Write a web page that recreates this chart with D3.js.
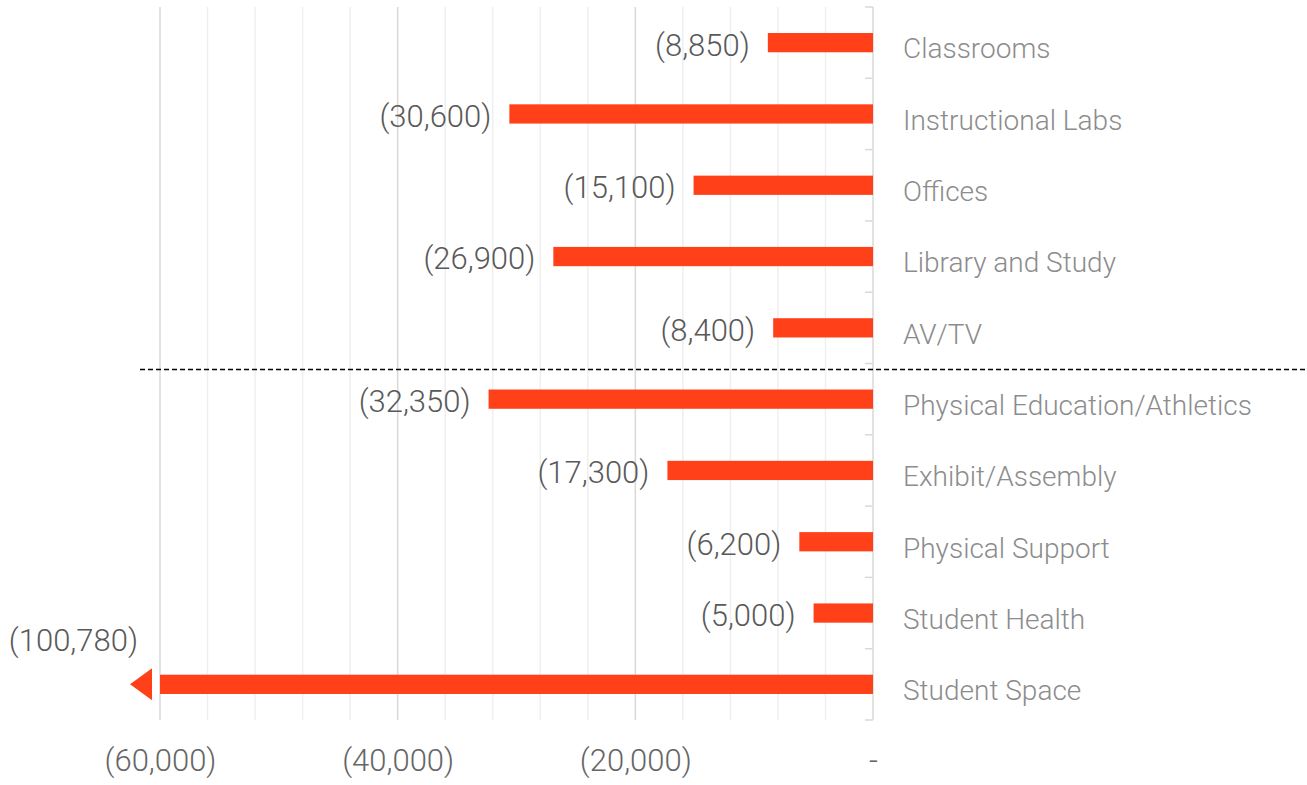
<!DOCTYPE html>
<html><head><meta charset="utf-8">
<script src="https://cdn.jsdelivr.net/npm/d3@7"></script>
<style>
body{margin:0;background:#fff;}
text{font-family:Roboto,"Noto Sans",sans-serif;font-weight:300;}
</style></head>
<body><svg id="c" width="1307" height="785"></svg>
<script>
const categories = ["Classrooms","Instructional Labs","Offices","Library and Study","AV/TV","Physical Education/Athletics","Exhibit/Assembly","Physical Support","Student Health","Student Space"];
const values = [-8850,-30600,-15100,-26900,-8400,-32350,-17300,-6200,-5000,-100780];
const xTicks = [-60000,-40000,-20000,0];
const xMinorStep = 4000;
const dividerAfter = "AV/TV";

const svg = d3.select("#c");
const x = d3.scaleLinear().domain([-60000,0]).range([160,873]);
const y = d3.scaleBand().domain(categories).range([7,720]).paddingInner(0.73).paddingOuter(0.365);
const fmt = v => v===0 ? "-" : "(" + d3.format(",")(Math.abs(v)) + ")";
const color = "#FF4019";

// minor grid
const minor = d3.range(-60000, 0, xMinorStep).filter(v=>!xTicks.includes(v));
svg.append("g").selectAll("line").data(minor).join("line")
  .attr("x1",d=>x(d)).attr("x2",d=>x(d)).attr("y1",7).attr("y2",720)
  .attr("stroke","#efefef").attr("stroke-width",1.5);
// major grid
svg.append("g").selectAll("line").data(xTicks.filter(v=>v!==0)).join("line")
  .attr("x1",d=>x(d)).attr("x2",d=>x(d)).attr("y1",7).attr("y2",720)
  .attr("stroke","#d9d9d9").attr("stroke-width",1.5);

// x axis tick labels
const xAxis = d3.axisBottom(x).tickValues(xTicks).tickFormat(fmt).tickSize(0).tickPadding(0);
const gx = svg.append("g").attr("transform","translate(0,771)").call(xAxis);
gx.select(".domain").remove();
gx.selectAll("text").attr("font-size",31).attr("fill","#666").attr("dy",0).attr("font-family","Roboto").attr("font-weight",300);

// y axis line + ticks at band boundaries
svg.append("line").attr("x1",873).attr("x2",873).attr("y1",7).attr("y2",720).attr("stroke","#d9d9d9").attr("stroke-width",1.5);
const b0 = y.range()[0], bStep = (y.range()[1]-y.range()[0])/categories.length;
svg.append("g").selectAll("line").data(d3.range(categories.length+1)).join("line")
  .attr("x1",865).attr("x2",873)
  .attr("y1",i=>b0+i*bStep).attr("y2",i=>b0+i*bStep)
  .attr("stroke","#d9d9d9").attr("stroke-width",1.5);

// bars
const xMin = x.domain()[0];
const bars = svg.append("g");
categories.forEach((c,i)=>{
  const v = values[i];
  const clipped = v < xMin;
  const x0 = clipped ? x(xMin) : x(v);
  bars.append("rect").attr("x",x0).attr("y",y(c)).attr("width",x(0)-x0).attr("height",y.bandwidth()).attr("fill",color);
  const cy = y(c)+y.bandwidth()/2;
  if(clipped){
    const tip = x0-30, base = x0-8, hh = 16;
    bars.append("path").attr("d",`M${tip},${cy}L${base},${cy-hh}L${base},${cy+hh}Z`).attr("fill",color);
    svg.append("text").attr("x",base-14).attr("y",cy-44).attr("text-anchor","end")
      .attr("font-size",31).attr("fill","#595959").attr("dy","0.35em").text(fmt(v));
  } else {
    svg.append("text").attr("x",x0-18).attr("y",cy+2).attr("text-anchor","end")
      .attr("font-size",31).attr("fill","#595959").attr("dy","0.35em").text(fmt(v));
  }
  svg.append("text").attr("x",903).attr("y",cy+6).attr("font-size",28).attr("fill","#8c8c8c")
    .attr("dy","0.35em").text(c);
});

// divider
const di = categories.indexOf(dividerAfter);
const divY = b0 + (di+1)*bStep + 6;
svg.append("line").attr("x1",140).attr("x2",1305).attr("y1",divY).attr("y2",divY)
  .attr("stroke","#000").attr("stroke-width",1.5).attr("stroke-dasharray","5,3");
</script></body></html>
